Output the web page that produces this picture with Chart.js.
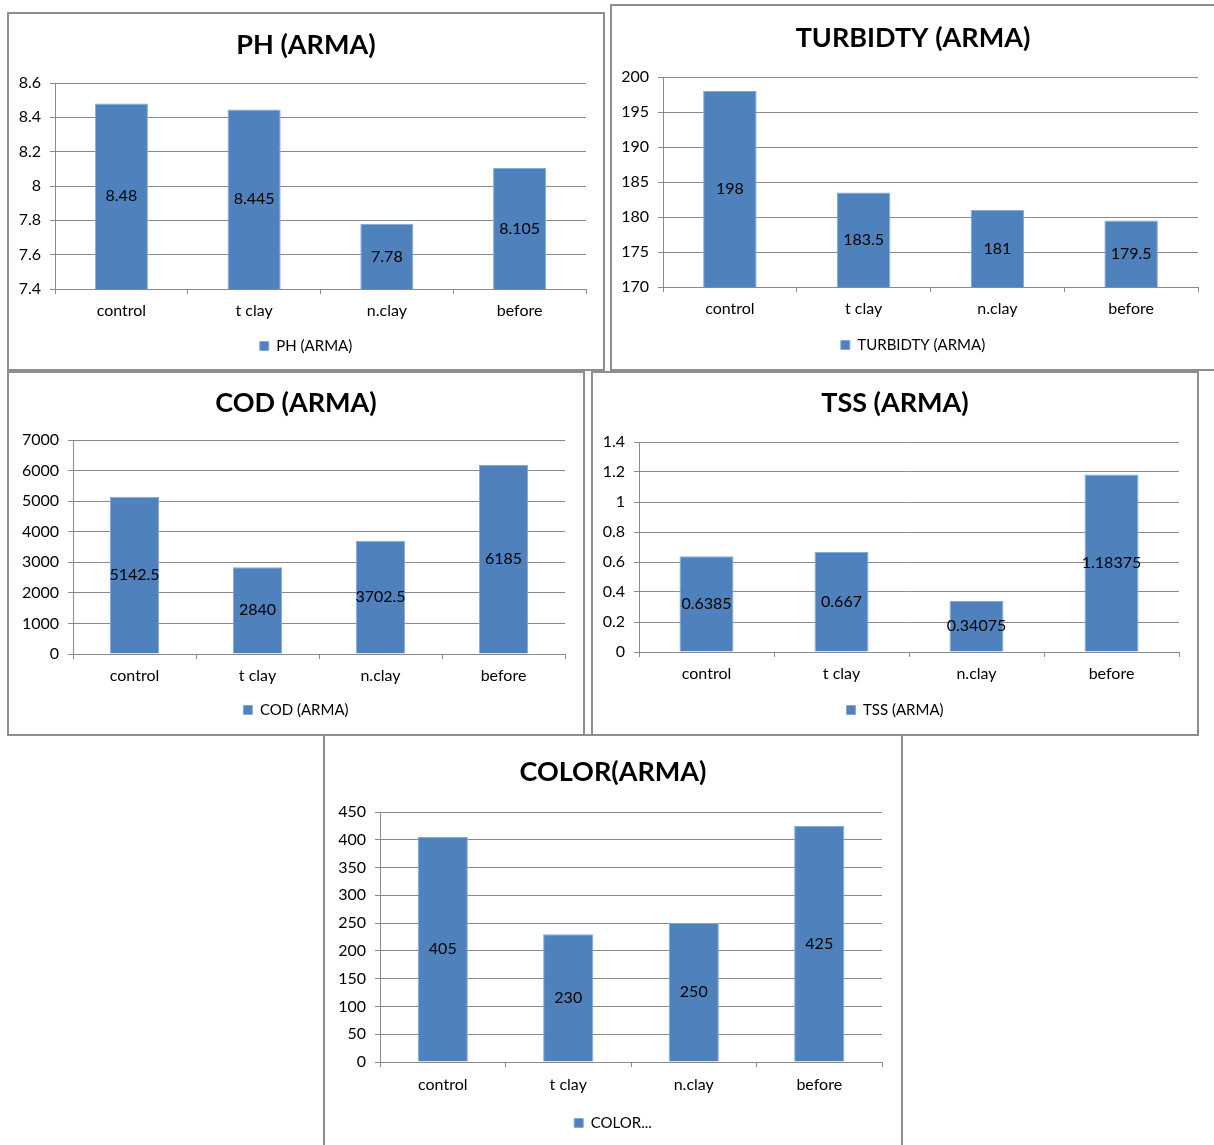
<!DOCTYPE html>
<html>
<head>
<meta charset="utf-8">
<title>ARMA water quality charts</title>
<script src="https://cdn.jsdelivr.net/npm/chart.js@4.4.1/dist/chart.umd.min.js"></script>
<style>
  html, body { margin: 0; padding: 0; background: #fff; overflow: hidden; width: 1214px; height: 1145px; }
  .panel { position: absolute; box-sizing: border-box; border: 2px solid #8e8e8e; background: #fff; overflow: hidden; }
  .panel canvas { display: block; }
</style>
</head>
<body>
<div class="panel" style="left:7px; top:12px; width:598px; height:359px;"><canvas id="c-ph"></canvas></div>
<div class="panel" style="left:610px; top:4px; width:606px; height:367px;"><canvas id="c-turb"></canvas></div>
<div class="panel" style="left:7px; top:371px; width:578px; height:365px;"><canvas id="c-cod"></canvas></div>
<div class="panel" style="left:591px; top:371px; width:608px; height:365px;"><canvas id="c-tss"></canvas></div>
<div class="panel" style="left:323px; top:734px; width:580px; height:420px;"><canvas id="c-color"></canvas></div>
<script>
// ---- data ----
const categories = ['control', 't clay', 'n.clay', 'before'];

const phValues = [8.48, 8.445, 7.78, 8.105];
const turbidityValues = [198, 183.5, 181, 179.5];
const codValues = [5142.5, 2840, 3702.5, 6185];
const tssValues = [0.6385, 0.667, 0.34075, 1.18375];
const colorValues = [405, 230, 250, 425];

const phTicks = [7.4, 7.6, 7.8, 8, 8.2, 8.4, 8.6];
const turbidityTicks = [170, 175, 180, 185, 190, 195, 200];
const codTicks = [0, 1000, 2000, 3000, 4000, 5000, 6000, 7000];
const tssTicks = [0, 0.2, 0.4, 0.6, 0.8, 1, 1.2, 1.4];
const colorTicks = [0, 50, 100, 150, 200, 250, 300, 350, 400, 450];

// ---- styling ----
const FONT = 'Lato, "Liberation Sans", sans-serif';
const BAR_COLOR = '#4F81BD';
const BAR_EDGE = '#86a9d6';
const GRID = '#8a8a8a';
const TITLE_SIZE = 27;
const TICK_SIZE = 16;
const LABEL_SIZE = 16;
const LEGEND_SIZE = 15;
const TICK_LEN = 5;

// canvas size, plot rectangle and text rows of each panel (canvas pixels)
const layoutPH    = { W: 594, H: 355, L: 46, T: 69, R: 577, B: 275, titleY: 31, labelY: 297, legendY: 332 };
const layoutTurb  = { W: 602, H: 363, L: 51, T: 71, R: 586, B: 281, titleY: 32, labelY: 303, legendY: 339 };
const layoutCOD   = { W: 574, H: 361, L: 64, T: 67, R: 556, B: 281, titleY: 30, labelY: 302.5, legendY: 337 };
const layoutTSS   = { W: 604, H: 361, L: 46, T: 69, R: 586, B: 279, titleY: 30, labelY: 301, legendY: 337 };
const layoutColor = { W: 576, H: 409, L: 55, T: 76, R: 557, B: 326, titleY: 36, labelY: 349, legendY: 387 };

// value written in the middle of the visible part of each bar
const barValueLabels = {
  id: 'barValueLabels',
  afterDatasetsDraw(chart) {
    const ctx = chart.ctx;
    const values = chart.data.datasets[0].data;
    const bottom = chart.chartArea.bottom;
    ctx.save();
    ctx.font = LABEL_SIZE + 'px ' + FONT;
    ctx.fillStyle = '#000';
    ctx.textAlign = 'center';
    ctx.textBaseline = 'middle';
    chart.getDatasetMeta(0).data.forEach((bar, i) => {
      const p = bar.getProps(['x', 'y', 'base'], true);
      const base = Math.min(p.base, bottom);
      ctx.fillText(String(values[i]), p.x, (p.y + base) / 2);
    });
    ctx.restore();
  }
};

function makeChart(id, title, legendText, values, ticks, g) {
  const titleLH = TITLE_SIZE * 1.2;
  const tickLH = TICK_SIZE * 1.2;
  // category labels: centre sits tick + padding + half a line below the axis;
  // the scale reserves its padding twice in its height
  const xPad = g.labelY - g.B - TICK_LEN - tickLH / 2;
  const xAxisH = TICK_LEN + 2 * xPad + tickLH;
  const legendPad = g.legendY - (g.B + xAxisH) - LEGEND_SIZE / 2;
  const legendH = LEGEND_SIZE + legendPad + 10;
  const side = g.W - g.R;

  const canvas = document.getElementById(id);
  canvas.width = g.W;
  canvas.height = g.H;

  return new Chart(canvas, {
    type: 'bar',
    data: {
      labels: categories,
      datasets: [{
        label: legendText,
        data: values,
        backgroundColor: BAR_COLOR,
        borderColor: BAR_EDGE,
        borderWidth: 1,
        borderSkipped: 'bottom',
        barPercentage: 0.4,
        categoryPercentage: 1
      }]
    },
    options: {
      responsive: false,
      animation: false,
      events: [],
      layout: {
        padding: { left: 0, top: 0, right: 0, bottom: Math.max(0, g.H - (g.B + xAxisH + legendH)) }
      },
      plugins: {
        title: {
          display: true,
          text: title,
          color: '#000',
          font: { family: FONT, size: TITLE_SIZE, weight: 'bold' },
          padding: { top: g.titleY - titleLH / 2, bottom: g.T - g.titleY - titleLH / 2 }
        },
        legend: {
          position: 'bottom',
          labels: {
            boxWidth: 9,
            boxHeight: 9,
            padding: legendPad,
            color: '#000',
            font: { family: FONT, size: LEGEND_SIZE }
          }
        },
        tooltip: { enabled: false }
      },
      scales: {
        x: {
          offset: true,
          grid: { display: true, drawOnChartArea: false, drawTicks: true, tickLength: TICK_LEN, color: GRID, offset: true },
          border: { display: true, color: GRID },
          ticks: { padding: xPad, maxRotation: 0, color: '#000', font: { family: FONT, size: TICK_SIZE } }
        },
        y: {
          min: ticks[0],
          max: ticks[ticks.length - 1],
          afterBuildTicks: s => { s.ticks = ticks.map(v => ({ value: v })); },
          afterFit: s => { s.width = g.L; },
          grid: { color: GRID, tickLength: TICK_LEN },
          border: { display: true, color: GRID },
          ticks: { padding: 9, color: '#000', font: { family: FONT, size: TICK_SIZE }, callback: v => String(v) }
        },
        // empty margin on the right of the plot, keeps title and legend centred on the panel
        yMargin: {
          type: 'linear',
          position: 'right',
          display: true,
          grid: { display: false, drawTicks: false },
          border: { display: false },
          ticks: { display: false },
          afterFit: s => { s.width = side; }
        }
      }
    },
    plugins: [barValueLabels]
  });
}

function drawAll() {
  Chart.defaults.font.family = FONT;
  makeChart('c-ph', 'PH (ARMA)', 'PH (ARMA)', phValues, phTicks, layoutPH);
  makeChart('c-turb', 'TURBIDTY (ARMA)', 'TURBIDTY (ARMA)', turbidityValues, turbidityTicks, layoutTurb);
  makeChart('c-cod', 'COD (ARMA)', 'COD (ARMA)', codValues, codTicks, layoutCOD);
  makeChart('c-tss', 'TSS (ARMA)', 'TSS (ARMA)', tssValues, tssTicks, layoutTSS);
  makeChart('c-color', 'COLOR(ARMA)', 'COLOR...', colorValues, colorTicks, layoutColor);
}

Promise.all([
  document.fonts.load(TICK_SIZE + 'px Lato'),
  document.fonts.load('bold ' + TITLE_SIZE + 'px Lato')
]).then(drawAll, drawAll);
</script>
</body>
</html>
